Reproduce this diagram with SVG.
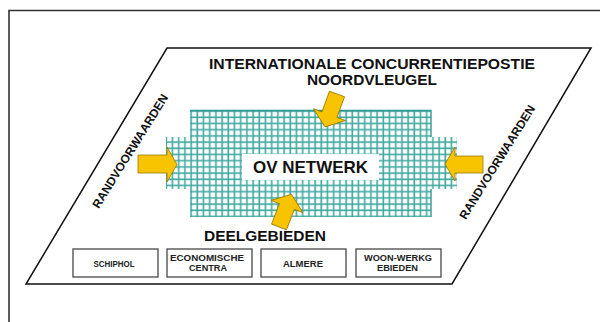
<svg xmlns="http://www.w3.org/2000/svg" width="600" height="322" viewBox="0 0 600 322">
<style>
.t{font-family:"Liberation Sans",Arial,sans-serif;font-weight:bold;fill:#111;text-anchor:middle}
.s{font-size:9.5px;fill:#222}
.box{fill:#fff;stroke:#555;stroke-width:1.4}
.arrow{fill:#f8c400;stroke:#9a7800;stroke-width:0.8;stroke-linejoin:miter}
</style>
<defs>
<pattern id="mesh" patternUnits="userSpaceOnUse" x="190" y="110" width="6.2" height="6.2">
<rect x="0" y="0" width="2.2" height="6.2" fill="#a6dad5"/>
<rect x="0" y="0" width="6.2" height="2.2" fill="#a6dad5"/>
<rect x="0.6" y="0" width="1" height="6.2" fill="#35a199"/>
<rect x="0" y="0.6" width="6.2" height="1" fill="#35a199"/>
</pattern>
<polygon id="arr" points="0,-8 22,-8 22,-17 35,0 22,17 22,8 0,8"/>
</defs>
<rect width="600" height="322" fill="#fff"/>
<path d="M9,330 V10.5 H605" fill="none" stroke="#333" stroke-width="1.6"/>
<g id="frame">
<polygon points="167,48 591,48 452,284 26,284" fill="#fff" stroke="#111" stroke-width="1.5"/>
</g>
<g id="title">
<text class="t" x="372" y="68.5" font-size="14.5" textLength="326" lengthAdjust="spacingAndGlyphs">INTERNATIONALE CONCURRENTIEPOSTIE</text>
<text class="t" x="372" y="84.5" font-size="14.5" textLength="130" lengthAdjust="spacingAndGlyphs">NOORDVLEUGEL</text>
</g>
<g id="ov-netwerk">
<path d="M190,110 H431 V137 H457 V189 H431 V217 H190 V189 H166 V137 H190 Z" fill="url(#mesh)"/>
<path d="M190,110.5 H431 V137 M431,189 V217" fill="none" stroke="#2e9c94" stroke-width="1.4"/>
<rect x="242" y="154" width="137" height="26" fill="#fff"/>
<text class="t" x="310.5" y="173" font-size="17" textLength="115" lengthAdjust="spacingAndGlyphs">OV NETWERK</text>
</g>
<g id="randvoorwaarden-left">
<text class="t" font-size="12" transform="translate(130,151) rotate(-58)" x="0" y="4.3">RANDVOORWAARDEN</text>
</g>
<g id="randvoorwaarden-right">
<text class="t" font-size="12" transform="translate(497,162) rotate(-58)" x="0" y="4.3">RANDVOORWAARDEN</text>
</g>
<g id="deelgebieden">
<text class="t" x="265" y="241" font-size="15.5" textLength="122" lengthAdjust="spacingAndGlyphs">DEELGEBIEDEN</text>
</g>
<g id="schiphol">
<rect class="box" x="73" y="249" width="85" height="28"/>
<text class="t s" x="114" y="266.8" textLength="41" lengthAdjust="spacingAndGlyphs">SCHIPHOL</text>
</g>
<g id="economische-centra">
<rect class="box" x="167" y="249" width="85" height="28"/>
<text class="t s" x="207" y="260.5" textLength="74" lengthAdjust="spacingAndGlyphs">ECONOMISCHE</text>
<text class="t s" x="208" y="271" textLength="38" lengthAdjust="spacingAndGlyphs">CENTRA</text>
</g>
<g id="almere">
<rect class="box" x="261" y="249" width="85" height="28"/>
<text class="t s" x="303" y="266.8" textLength="40" lengthAdjust="spacingAndGlyphs">ALMERE</text>
</g>
<g id="woon-werkgebieden">
<rect class="box" x="356" y="249" width="85" height="28"/>
<text class="t s" x="398" y="261" textLength="68" lengthAdjust="spacingAndGlyphs">WOON-WERKG</text>
<text class="t s" x="397.5" y="271" textLength="41" lengthAdjust="spacingAndGlyphs">EBIEDEN</text>
</g>
<g id="connectors">
<polygon class="arrow" points="138,155 167,155 167,147 177,164.5 167,182 167,173 138,173"/>
<polygon class="arrow" points="483,156 455,156 455,147 445,164 455,181 455,173 483,173"/>
<use href="#arr" class="arrow" transform="translate(337,94) rotate(110)"/>
<use href="#arr" class="arrow" transform="translate(279,227) rotate(-69)"/>
</g>
</svg>
